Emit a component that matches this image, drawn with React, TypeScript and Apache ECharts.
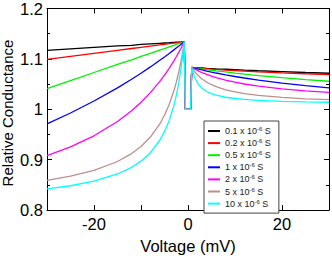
import React, { useEffect, useRef } from "react";
import * as echarts from "echarts";

const voltages = [-30, -25, -20, -15, -12, -10, -8, -6, -5, -4, -3, -2.5, -2, -1.5, -1.2, -0.8, -0.55, 0.55, 0.8, 1.2, 1.5, 2, 2.5, 3, 4, 5, 6, 8, 10, 12, 15, 20, 25, 30];

const conductances = ["0.1", "0.2", "0.5", "1", "2", "5", "10"];
const colors = ["#000000", "#ff0000", "#00f000", "#0000ff", "#ff00ff", "#bc8f8f", "#00ffff"];

const g01 = [1.117, 1.12, 1.123, 1.126, 1.127, 1.129, 1.13, 1.131, 1.1315, 1.132, 1.1327, 1.133, 1.1333, 1.1336, 1.1338, 1.134, 1.0, 1.0, 1.083, 1.0828, 1.0826, 1.0824, 1.0821, 1.0819, 1.0813, 1.0809, 1.0804, 1.0795, 1.0786, 1.0777, 1.0765, 1.0747, 1.073, 1.0715];
const g02 = [1.099, 1.105, 1.111, 1.117, 1.1206, 1.123, 1.1254, 1.1278, 1.129, 1.1302, 1.1314, 1.132, 1.1326, 1.1332, 1.1335, 1.134, 1.0, 1.0, 1.083, 1.0827, 1.0824, 1.082, 1.0817, 1.0813, 1.0805, 1.0798, 1.0792, 1.0779, 1.0768, 1.0757, 1.0743, 1.0722, 1.0705, 1.069];
const g05 = [1.041, 1.057, 1.073, 1.089, 1.098, 1.105, 1.111, 1.1175, 1.1206, 1.1238, 1.127, 1.1286, 1.1302, 1.1318, 1.1327, 1.134, 1.0, 1.0, 1.083, 1.0824, 1.082, 1.0814, 1.0807, 1.0801, 1.0788, 1.0775, 1.0763, 1.0741, 1.0719, 1.0699, 1.067, 1.0628, 1.059, 1.0557];
const g1 = [0.971, 0.9927, 1.0164, 1.0426, 1.0596, 1.0716, 1.0841, 1.0972, 1.1039, 1.1108, 1.1179, 1.1215, 1.1251, 1.1288, 1.131, 1.134, 1.0, 1.0, 1.083, 1.0821, 1.0814, 1.0802, 1.0791, 1.078, 1.0759, 1.0739, 1.072, 1.0684, 1.0651, 1.0621, 1.058, 1.052, 1.047, 1.0427];
const g2 = [0.908, 0.9254, 0.9474, 0.9758, 0.9972, 1.014, 1.0331, 1.0554, 1.0679, 1.0814, 1.0962, 1.1042, 1.1124, 1.1211, 1.1265, 1.134, 1.0, 1.0, 1.083, 1.0809, 1.0794, 1.0771, 1.0749, 1.0729, 1.0692, 1.0659, 1.0629, 1.0579, 1.0537, 1.0502, 1.0459, 1.0405, 1.0365, 1.0335];
const g5 = [0.859, 0.8672, 0.8788, 0.8964, 0.9121, 0.9262, 0.9449, 0.9709, 0.9881, 1.0095, 1.0367, 1.0532, 1.0725, 1.095, 1.1105, 1.134, 1.0, 1.0, 1.083, 1.0774, 1.0738, 1.0685, 1.064, 1.0601, 1.0537, 1.0488, 1.0448, 1.0387, 1.0344, 1.0311, 1.0275, 1.0235, 1.0208, 1.019];
const g10 = [0.842, 0.8483, 0.8574, 0.8717, 0.8849, 0.8971, 0.914, 0.9386, 0.9556, 0.9778, 1.0078, 1.0271, 1.0505, 1.0795, 1.1005, 1.134, 1.0, 1.0, 1.083, 1.0691, 1.0617, 1.0528, 1.0465, 1.0418, 1.0353, 1.031, 1.028, 1.0239, 1.0214, 1.0196, 1.0178, 1.0159, 1.0148, 1.014];

const seriesValues = [g01, g02, g05, g1, g2, g5, g10];
const xTicks = { min: -30, max: 30, interval: 10 };
const yTicks = { min: 0.8, max: 1.2, interval: 0.1 };
const yTitle = "Relative Conductance";
const xTitle = "Voltage (mV)";

const FONT = "Liberation Sans, Arial, Helvetica, sans-serif";

export default function App() {
  const ref = useRef<HTMLDivElement>(null);
  useEffect(() => {
    if (!ref.current) return;
    const chart = echarts.init(ref.current, null, { renderer: "svg" });
    const names = conductances.map((c) => `${c} x 10-6 S`);
    const axisLine = { onZero: false, lineStyle: { color: "#000", width: 1 } };
    const tick = { inside: true, length: 5, lineStyle: { color: "#000", width: 1 } };
    const minorTick = { show: true, splitNumber: 2, length: 3, lineStyle: { color: "#000", width: 1 } };
    chart.setOption({
      animation: false,
      backgroundColor: "#fff",
      grid: { left: 47, right: 2, top: 5, bottom: 37, containLabel: false },
      graphic: [
        {
          type: "text",
          x: 7.5,
          y: 113,
          rotation: Math.PI / 2,
          style: {
            text: yTitle,
            fontSize: 15,
            fontFamily: FONT,
            fill: "#000",
            align: "center",
            verticalAlign: "middle",
          },
        },
      ],
      legend: {
        show: true,
        data: names,
        orient: "vertical",
        left: 204,
        top: 121,
        icon: "rect",
        itemWidth: 12,
        itemHeight: 2,
        itemGap: 2.6,
        padding: [5, 8, 5, 4],
        backgroundColor: "#fff",
        borderColor: "#444",
        borderWidth: 1,
        borderRadius: 0,
        selectedMode: false,
        formatter: (name: string) => {
          const i = names.indexOf(name);
          return `{a|${conductances[i]} x 10}{s|-6}{a| S}`;
        },
        textStyle: {
          fontFamily: FONT,
          color: "#222",
          rich: {
            a: { fontSize: 9, lineHeight: 10, fontFamily: FONT, color: "#222", verticalAlign: "middle" },
            s: { fontSize: 6, lineHeight: 6, fontFamily: FONT, color: "#222", verticalAlign: "top" },
          },
        },
      },
      xAxis: [
        {
          type: "value",
          ...xTicks,
          position: "bottom",
          axisLine,
          axisTick: tick,
          splitLine: { show: false },
          axisLabel: {
            formatter: (v: number) => (Math.round(v) % 20 === 0 ? String(Math.round(v)) : ""),
            fontSize: 16.5,
            color: "#000",
            margin: 5,
            fontFamily: FONT,
          },
          name: xTitle,
          nameLocation: "middle",
          nameGap: 16,
          nameTextStyle: { fontSize: 16.5, color: "#000", fontFamily: FONT },
        },
        {
          type: "value",
          ...xTicks,
          position: "top",
          axisLine,
          axisTick: tick,
          splitLine: { show: false },
          axisLabel: { show: false },
        },
      ],
      yAxis: [
        {
          type: "value",
          ...yTicks,
          position: "left",
          axisLine,
          axisTick: tick,
          minorTick,
          splitLine: { show: false },
          minorSplitLine: { show: false },
          axisLabel: {
            formatter: (v: number) => String(parseFloat(v.toFixed(2))),
            fontSize: 16.5,
            color: "#000",
            margin: 4,
            fontFamily: FONT,
          },
        },
        {
          type: "value",
          ...yTicks,
          position: "right",
          axisLine,
          axisTick: tick,
          minorTick,
          splitLine: { show: false },
          minorSplitLine: { show: false },
          axisLabel: { show: false },
        },
      ],
      series: seriesValues.map((vals, i) => ({
        name: names[i],
        type: "line",
        xAxisIndex: 0,
        yAxisIndex: 0,
        showSymbol: false,
        symbol: "none",
        smooth: false,
        lineStyle: { color: colors[i], width: 1.3 },
        itemStyle: { color: colors[i] },
        data: voltages.map((v, j) => [v, vals[j]]),
      })),
    });
    return () => chart.dispose();
  }, []);
  return <div ref={ref} style={{ width: 332, height: 259, position: "absolute", left: 0, top: 0 }} />;
}
